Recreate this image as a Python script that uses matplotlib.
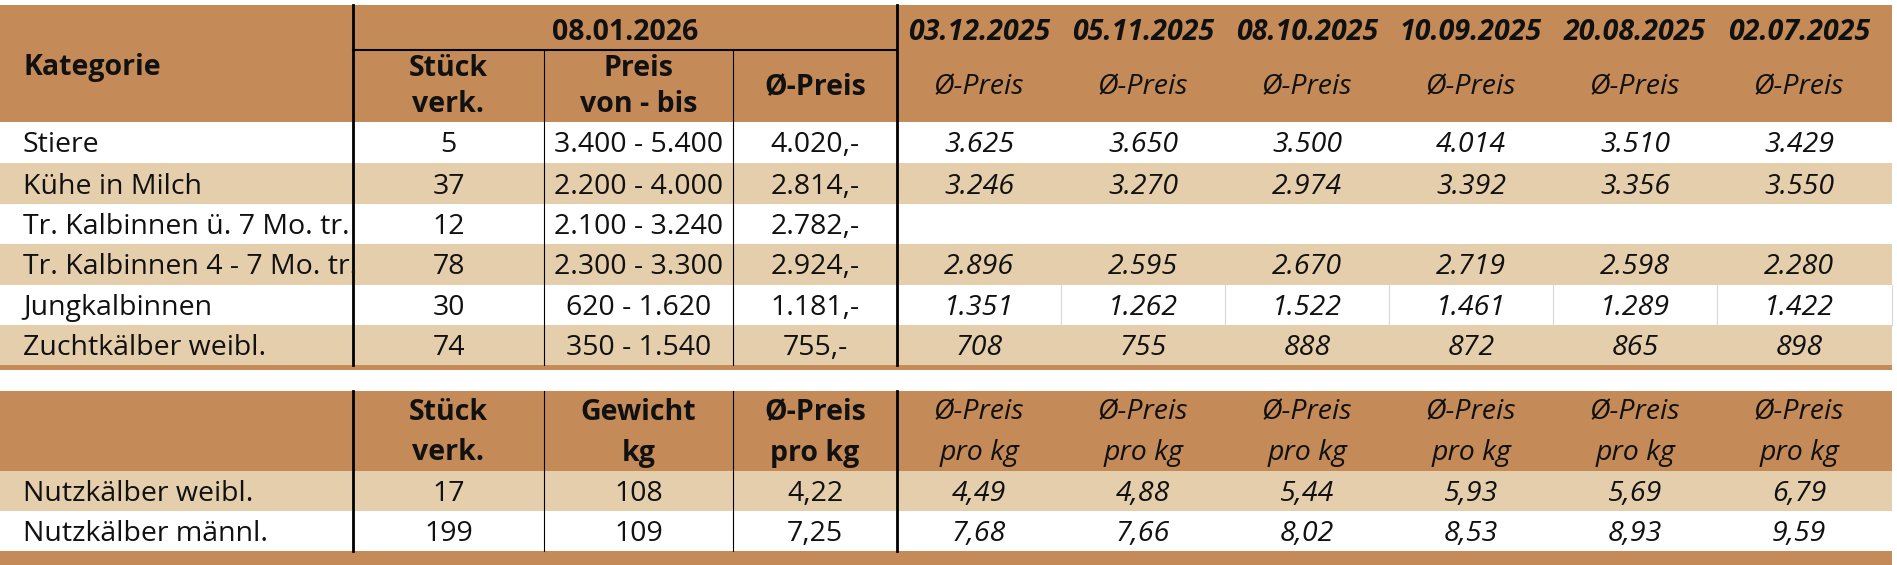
import matplotlib
matplotlib.use("Agg")
import matplotlib.pyplot as plt
from matplotlib.patches import Rectangle

plt.rcParams['font.family'] = ['Open Sans', 'DejaVu Sans']

dates_hist = ["03.12.2025", "05.11.2025", "08.10.2025", "10.09.2025", "20.08.2025", "02.07.2025"]
current_date = "08.01.2026"
categories = ["Stiere", "Kühe in Milch", "Tr. Kalbinnen ü. 7 Mo. tr.", "Tr. Kalbinnen 4 - 7 Mo. tr.",
              "Jungkalbinnen", "Zuchtkälber weibl."]
stueck = ["5", "37", "12", "78", "30", "74"]
preis_range = ["3.400 - 5.400", "2.200 - 4.000", "2.100 - 3.240", "2.300 - 3.300", "620 - 1.620", "350 - 1.540"]
avg_preis = ["4.020,-", "2.814,-", "2.782,-", "2.924,-", "1.181,-", "755,-"]
hist_0312 = ["3.625", "3.246", "", "2.896", "1.351", "708"]
hist_0511 = ["3.650", "3.270", "", "2.595", "1.262", "755"]
hist_0810 = ["3.500", "2.974", "", "2.670", "1.522", "888"]
hist_1009 = ["4.014", "3.392", "", "2.719", "1.461", "872"]
hist_2008 = ["3.510", "3.356", "", "2.598", "1.289", "865"]
hist_0207 = ["3.429", "3.550", "", "2.280", "1.422", "898"]

calf_categories = ["Nutzkälber weibl.", "Nutzkälber männl."]
calf_stueck = ["17", "199"]
calf_gewicht = ["108", "109"]
calf_preis = ["4,22", "7,25"]
calf_0312 = ["4,49", "7,68"]
calf_0511 = ["4,88", "7,66"]
calf_0810 = ["5,44", "8,02"]
calf_1009 = ["5,93", "8,53"]
calf_2008 = ["5,69", "8,93"]
calf_0207 = ["6,79", "9,59"]

hist = [hist_0312, hist_0511, hist_0810, hist_1009, hist_2008, hist_0207]
calf_hist = [calf_0312, calf_0511, calf_0810, calf_1009, calf_2008, calf_0207]

BROWN = "#C48B58"
TAN = "#E4CEAB"
W, H = 1897, 565
fig = plt.figure(figsize=(W / 100, H / 100), dpi=100)
ax = fig.add_axes([0, 0, 1, 1])
ax.set_xlim(0, W)
ax.set_ylim(H, 0)
ax.axis("off")

FS = 20.5
DY = 3
xR = 1892
hx = [897 + 164 * i for i in range(7)]
hx[-1] = xR

def rect(x0, y0, x1, y1, c):
    ax.add_patch(Rectangle((x0, y0), x1 - x0, y1 - y0, color=c, lw=0))

def txt(x, y, s, ha="center", bold=False, italic=False):
    ax.text(x, y + DY, s, ha=ha, va="center", fontsize=FS,
            fontweight="bold" if bold else "normal",
            fontstyle="italic" if italic else "normal", color="#111111")

# ---- top table
rect(0, 5, xR, 122, BROWN)
rows_y = [122, 163, 204, 244, 285, 325, 365]
for i in range(6):
    if i % 2 == 1:
        rect(0, rows_y[i], xR, rows_y[i + 1], TAN)
rect(0, 365, xR, 370, BROWN)

txt(23, 65, "Kategorie", ha="left", bold=True)
txt((353 + 897) / 2, 29, current_date, bold=True)
txt((353 + 544) / 2, 65, "Stück", bold=True)
txt((353 + 544) / 2, 102, "verk.", bold=True)
txt((544 + 733) / 2, 65, "Preis", bold=True)
txt((544 + 733) / 2, 102, "von - bis", bold=True)
txt((733 + 897) / 2, 84, "Ø-Preis", bold=True)
for j, d in enumerate(dates_hist):
    cx = 897 + 164 * j + 82
    txt(cx, 29, d, bold=True, italic=True)
    txt(cx, 84, "Ø-Preis", italic=True)

for i, cat in enumerate(categories):
    cy = (rows_y[i] + rows_y[i + 1]) / 2
    txt(23, cy, cat, ha="left")
    txt((353 + 544) / 2, cy, stueck[i])
    txt((544 + 733) / 2, cy, preis_range[i])
    txt((733 + 897) / 2, cy, avg_preis[i])
    for j in range(6):
        txt(897 + 164 * j + 82, cy, hist[j][i], italic=True)

ax.plot([353, 897], [50, 50], color="black", lw=1.5)
ax.plot([353, 353], [5, 365], color="black", lw=2)
ax.plot([897, 897], [5, 365], color="black", lw=2)
for x in (544, 733):
    ax.plot([x, x], [50, 365], color="black", lw=0.8)
for x in hx[1:]:
    ax.plot([x, x], [285, 325], color="#d8d8d8", lw=0.8)

# ---- bottom table
rect(0, 391, xR, 471, BROWN)
rect(0, 471, xR, 511, TAN)
rect(0, 551, xR, 565, BROWN)
txt((353 + 544) / 2, 409, "Stück", bold=True)
txt((353 + 544) / 2, 450, "verk.", bold=True)
txt((544 + 733) / 2, 409, "Gewicht", bold=True)
txt((544 + 733) / 2, 450, "kg", bold=True)
txt((733 + 897) / 2, 409, "Ø-Preis", bold=True)
txt((733 + 897) / 2, 450, "pro kg", bold=True)
for j in range(6):
    cx = 897 + 164 * j + 82
    txt(cx, 409, "Ø-Preis", italic=True)
    txt(cx, 450, "pro kg", italic=True)
crow = [471, 511, 551]
for i, cat in enumerate(calf_categories):
    cy = (crow[i] + crow[i + 1]) / 2
    txt(23, cy, cat, ha="left")
    txt((353 + 544) / 2, cy, calf_stueck[i])
    txt((544 + 733) / 2, cy, calf_gewicht[i])
    txt((733 + 897) / 2, cy, calf_preis[i])
    for j in range(6):
        txt(897 + 164 * j + 82, cy, calf_hist[j][i], italic=True)
ax.plot([353, 353], [391, 551], color="black", lw=2)
ax.plot([897, 897], [391, 551], color="black", lw=2)
for x in (544, 733):
    ax.plot([x, x], [391, 551], color="black", lw=0.8)

fig.savefig("out.png", dpi=100)
